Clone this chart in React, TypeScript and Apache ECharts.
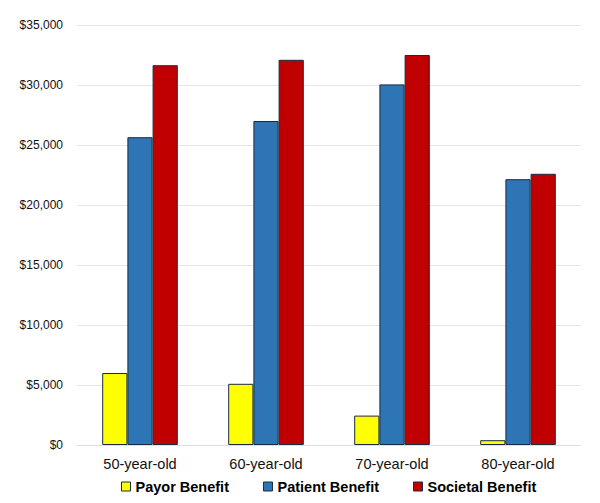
import React, { useEffect, useRef } from "react";
import * as echarts from "echarts";

const categories = ["50-year-old", "60-year-old", "70-year-old", "80-year-old"];
const payor = [6000, 5100, 2450, 400];
const patient = [25650, 27000, 30050, 22150];
const societal = [31650, 32100, 32500, 22600];
const seriesNames = ["Payor Benefit", "Patient Benefit", "Societal Benefit"];
const colors = ["#FFFF00", "#2E75B6", "#C00000"];

export default function App() {
  const ref = useRef<HTMLDivElement>(null);
  useEffect(() => {
    document.body.style.margin = "0";
    const chart = echarts.init(ref.current!, null, { renderer: "svg" });
    const data = [payor, patient, societal];
    chart.setOption({
      animation: false,
      backgroundColor: "#ffffff",
      textStyle: { fontFamily: "Liberation Sans, Arial, sans-serif" },
      grid: { left: 77, right: 19, top: 25, bottom: 58 },
      legend: {
        bottom: 4,
        left: 116,
        itemWidth: 9,
        itemHeight: 9,
        itemGap: 34,
        icon: "rect",
        textStyle: { fontSize: 14.5, fontWeight: "bold", color: "#000", fontFamily: "Liberation Sans, Arial, sans-serif" },
        data: seriesNames.map((n, i) => ({
          name: n,
          itemStyle: { color: colors[i], borderColor: "#1a2a40", borderWidth: 1 },
        })),
      },
      xAxis: {
        type: "category",
        data: categories,
        axisLine: { show: true, lineStyle: { color: "#e0e0e0" } },
        axisTick: { show: false },
        axisLabel: { fontSize: 14.5, color: "#111", margin: 11 },
      },
      yAxis: {
        type: "value",
        min: 0,
        max: 35000,
        interval: 5000,
        axisLine: { show: false },
        axisTick: { show: false },
        splitLine: { lineStyle: { color: "#e6e6e6" } },
        axisLabel: {
          fontSize: 12,
          color: "#111",
          margin: 14,
          formatter: (v: number) => "$" + v.toLocaleString("en-US"),
        },
      },
      series: seriesNames.map((n, i) => ({
        name: n,
        type: "bar",
        data: data[i],
        barGap: "0%",
        barCategoryGap: "40%",
        itemStyle: { color: colors[i], borderColor: "#1a2a40", borderWidth: 1 },
      })),
    });
    return () => chart.dispose();
  }, []);
  return <div ref={ref} style={{ width: 600, height: 503 }} />;
}
